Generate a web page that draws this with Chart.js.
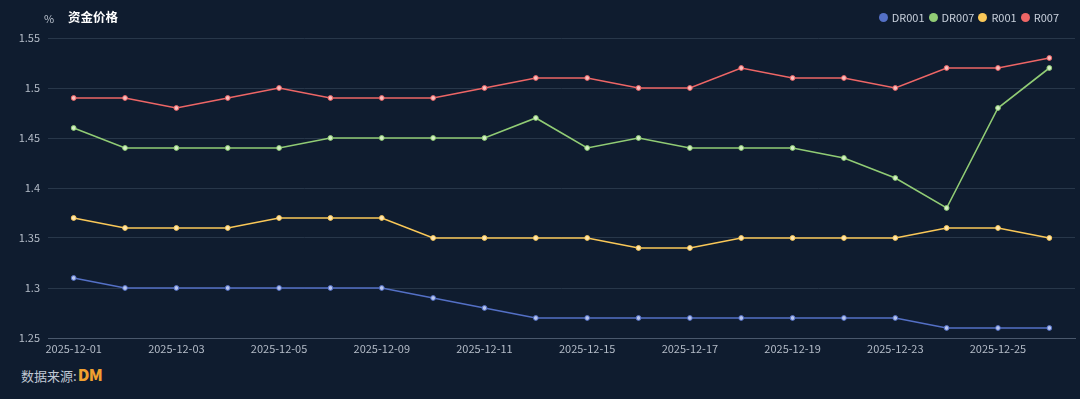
<!DOCTYPE html>
<html lang="zh-CN">
  <head>
    <meta charset="utf-8" />
    <script src="https://cdn.jsdelivr.net/npm/chart.js@4"></script>
    <title>资金价格</title>
    <style>
      html, body { margin: 0; padding: 0; background: #0f1c2f; }
      #wrap { position: relative; width: 1080px; height: 399px; background: #0f1c2f; overflow: hidden;
              font-family: "Noto Sans CJK SC", "Noto Sans", sans-serif; }
      #chart { position: absolute; left: 0; top: 0; }
      .title { position: absolute; left: 68px; top: 7px; font-size: 12.5px; font-weight: bold; color: #ffffff; }
      .unit { position: absolute; left: 44px; top: 10px; font-size: 11px; color: #b8c0cc; }
      .legend { position: absolute; right: 21px; top: 9px; display: flex; font-size: 11px; color: #c8d0dc; line-height: 16px; }
      .legend span.item { display: flex; align-items: center; margin-left: 4px; }
      .legend i { display: inline-block; width: 9px; height: 9px; border-radius: 50%; margin-right: 4px; }
      .source { position: absolute; left: 21px; top: 362px; font-size: 13px; color: #c0c8d4; }
      .source b { color: #f0a030; font-size: 16px; font-weight: 900; letter-spacing: -0.5px; margin-left: 1px; }
    </style>
  </head>
  <body>
    <div id="wrap">
      <canvas id="chart" width="1080" height="360"></canvas>
      <div class="unit">%</div>
      <div class="title">资金价格</div>
      <div class="legend" id="legend"></div>
      <div class="source">数据来源:<b>DM</b></div>
    </div>
    <script>
      const dates = ['2025-12-01', '2025-12-02', '2025-12-03', '2025-12-04', '2025-12-05',
                     '2025-12-08', '2025-12-09', '2025-12-10', '2025-12-11', '2025-12-12',
                     '2025-12-15', '2025-12-16', '2025-12-17', '2025-12-18', '2025-12-19',
                     '2025-12-22', '2025-12-23', '2025-12-24', '2025-12-25', '2025-12-26'];

      const dr001 = [1.31, 1.30, 1.30, 1.30, 1.30, 1.30, 1.30, 1.29, 1.28, 1.27,
                     1.27, 1.27, 1.27, 1.27, 1.27, 1.27, 1.27, 1.26, 1.26, 1.26];
      const dr007 = [1.46, 1.44, 1.44, 1.44, 1.44, 1.45, 1.45, 1.45, 1.45, 1.47,
                     1.44, 1.45, 1.44, 1.44, 1.44, 1.43, 1.41, 1.38, 1.48, 1.52];
      const r001 = [1.37, 1.36, 1.36, 1.36, 1.37, 1.37, 1.37, 1.35, 1.35, 1.35,
                    1.35, 1.34, 1.34, 1.35, 1.35, 1.35, 1.35, 1.36, 1.36, 1.35];
      const r007 = [1.49, 1.49, 1.48, 1.49, 1.50, 1.49, 1.49, 1.49, 1.50, 1.51,
                    1.51, 1.50, 1.50, 1.52, 1.51, 1.51, 1.50, 1.52, 1.52, 1.53];

      const yMin = 1.25;
      const yMax = 1.55;
      const yStep = 0.05;

      const series = [
        { label: 'DR001', data: dr001, color: '#5470c6', light: '#b9c6ee' },
        { label: 'DR007', data: dr007, color: '#91cc75', light: '#d6efc8' },
        { label: 'R001', data: r001, color: '#fac858', light: '#fde7b4' },
        { label: 'R007', data: r007, color: '#ee6666', light: '#f8c0c0' }
      ];

      const legend = document.getElementById('legend');
      series.forEach(s => {
        const item = document.createElement('span');
        item.className = 'item';
        item.innerHTML = '<i style="background:' + s.color + '"></i>' + s.label;
        legend.appendChild(item);
      });

      const tickColor = '#b4bcc8';
      const font = { family: '"Noto Sans CJK SC", "Noto Sans", sans-serif', size: 11 };

      const ctx = document.getElementById('chart').getContext('2d');
      new Chart(ctx, {
        type: 'line',
        data: {
          labels: dates,
          datasets: series.map(s => ({
            label: s.label,
            data: s.data,
            borderColor: s.color,
            backgroundColor: s.color,
            borderWidth: 1.6,
            pointRadius: 2.4,
            pointBorderWidth: 1,
            pointBorderColor: s.color,
            pointBackgroundColor: s.light,
            tension: 0
          }))
        },
        options: {
          responsive: false,
          animation: false,
          layout: { padding: { top: 38, left: 0, right: 0, bottom: 0 } },
          plugins: {
            legend: { display: false },
            tooltip: { enabled: false }
          },
          scales: {
            x: {
              offset: true,
              grid: { display: false, drawTicks: false },
              border: { display: true, color: '#4a586c', width: 1 },
              ticks: {
                autoSkip: false,
                maxRotation: 0,
                padding: 4,
                color: tickColor,
                font: font,
                callback: function(value, index) {
                  return index % 2 === 0 ? this.getLabelForValue(value) : '';
                }
              },
              afterFit: function(scale) { scale.height = 22; }
            },
            y: {
              min: yMin,
              max: yMax,
              grid: { color: '#28374a', lineWidth: 1, drawTicks: false },
              border: { display: false },
              ticks: {
                stepSize: yStep,
                padding: 8,
                color: tickColor,
                font: font,
                callback: function(value) {
                  return String(Number(value.toFixed(2)));
                }
              },
              afterFit: function(scale) { scale.width = 48; }
            }
          }
        }
      });
    </script>
  </body>
</html>
